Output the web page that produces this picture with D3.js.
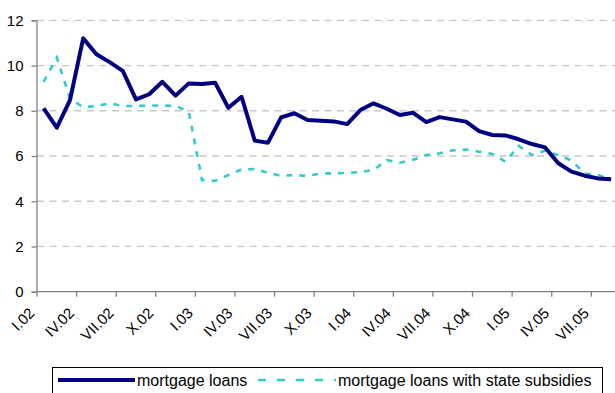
<!DOCTYPE html>
<html>
<head>
<meta charset="utf-8">
<script src="https://cdn.jsdelivr.net/npm/d3@7"></script>
<style>
  body { margin: 0; background: #fff; }
  text { font-family: Arial, "Liberation Sans", sans-serif; fill: #000; }
</style>
</head>
<body>
<div id="chart"></div>
<script>
// monthly rates, I.02 .. VIII.05
const months = ["I", "II", "III", "IV", "V", "VI", "VII", "VIII", "IX", "X", "XI", "XII"];
const years = ["02", "03", "04", "05"];
const mortgageLoans = [8.11, 7.25, 8.47, 11.2, 10.5, 10.15, 9.76, 8.5, 8.73, 9.28, 8.67, 9.21,
    9.18, 9.24, 8.13, 8.62, 6.68, 6.59, 7.71, 7.89, 7.59, 7.56, 7.53, 7.41,
    8.03, 8.33, 8.09, 7.81, 7.91, 7.5, 7.72, 7.62, 7.52, 7.1, 6.93, 6.91,
    6.74, 6.53, 6.38, 5.68, 5.31, 5.13, 5.01, 4.97];
const subsidised = [9.28, 10.35, 8.55, 8.15, 8.21, 8.33, 8.21, 8.21, 8.23, 8.23, 8.21, 7.96,
    4.94, 4.9, 5.16, 5.41, 5.42, 5.26, 5.12, 5.16, 5.12, 5.23, 5.23, 5.25,
    5.29, 5.38, 5.82, 5.7, 5.83, 6.04, 6.12, 6.25, 6.28, 6.19, 6.09, 5.75,
    6.45, 6.04, 6.24, 6.04, 5.8, 5.23, 5.16, 4.97];
const yTicks = [0, 2, 4, 6, 8, 10, 12];
const seriesNames = ["mortgage loans", "mortgage loans with state subsidies"];

function drawChart() {
    const width = 615;
    const height = 393;

    // category labels like "IV.03"
    const categories = mortgageLoans.map((d, i) => months[i % 12] + "." + years[Math.floor(i / 12)]);

    const svg = d3.select("#chart")
        .append("svg")
        .attr("width", width)
        .attr("height", height);

    const x = d3.scaleBand()
        .domain(categories)
        .range([37, 617.7]);

    const y = d3.scaleLinear()
        .domain([0, 12])
        .range([291.7, 20.3]);

    // dashed gridlines
    svg.append("g")
        .selectAll("line")
        .data(yTicks.filter(d => d > 0))
        .join("line")
        .attr("x1", x.range()[0])
        .attr("x2", x.range()[1])
        .attr("y1", d => y(d))
        .attr("y2", d => y(d))
        .attr("stroke", "#c8c8c8")
        .attr("stroke-width", 1.3)
        .attr("stroke-dasharray", "7,5.5");

    // y axis
    const yAxis = svg.append("g")
        .attr("transform", "translate(36.5,0)")
        .call(d3.axisLeft(y).tickValues(yTicks).tickSize(5).tickPadding(8));
    yAxis.select(".domain").attr("stroke", "#808080").attr("stroke-width", 1.3);
    yAxis.selectAll(".tick line").attr("stroke", "#808080").attr("stroke-width", 1.3);
    yAxis.selectAll("text").attr("font-size", "15px").attr("font-family", "Arial, 'Liberation Sans', sans-serif");

    // x axis: ticks every 3 months at category boundaries
    const tickCats = categories.filter((d, i) => i % 3 === 0);
    const xAxis = svg.append("g");
    xAxis.append("line")
        .attr("x1", x.range()[0])
        .attr("x2", x.range()[1])
        .attr("y1", y(0))
        .attr("y2", y(0))
        .attr("stroke", "#808080")
        .attr("stroke-width", 1.3);
    xAxis.selectAll("line.tick")
        .data(tickCats)
        .join("line")
        .attr("class", "tick")
        .attr("x1", d => x(d))
        .attr("x2", d => x(d))
        .attr("y1", y(0))
        .attr("y2", y(0) + 5)
        .attr("stroke", "#808080")
        .attr("stroke-width", 1.3);
    xAxis.selectAll("text")
        .data(tickCats)
        .join("text")
        .attr("transform", d => "translate(" + (x(d) - 1.5) + ",314) rotate(-45)")
        .attr("text-anchor", "end")
        .attr("font-size", "15px")
        .text(d => d);

    const line = d3.line()
        .x((d, i) => x(categories[i]) + x.bandwidth() / 2)
        .y(d => y(d));

    svg.append("path")
        .datum(subsidised)
        .attr("d", line)
        .attr("fill", "none")
        .attr("stroke", "#33cccc")
        .attr("stroke-width", 2.6)
        .attr("stroke-dasharray", "6,7");

    svg.append("path")
        .datum(mortgageLoans)
        .attr("d", line)
        .attr("fill", "none")
        .attr("stroke", "#000080")
        .attr("stroke-width", 4)
        .attr("stroke-linejoin", "round");

    // legend
    const legend = svg.append("g");
    legend.append("rect")
        .attr("x", 52.5)
        .attr("y", 367.5)
        .attr("width", 550)
        .attr("height", 40)
        .attr("fill", "#fff")
        .attr("stroke", "#000")
        .attr("stroke-width", 1);
    legend.append("line")
        .attr("x1", 58).attr("x2", 135)
        .attr("y1", 380).attr("y2", 380)
        .attr("stroke", "#000080")
        .attr("stroke-width", 4);
    legend.append("text")
        .attr("x", 137)
        .attr("y", 385.5)
        .attr("font-size", "16px")
        .text(seriesNames[0]);
    legend.append("line")
        .attr("x1", 258).attr("x2", 336)
        .attr("y1", 380).attr("y2", 380)
        .attr("stroke", "#33cccc")
        .attr("stroke-width", 2.6)
        .attr("stroke-dasharray", "8,11");
    legend.append("text")
        .attr("x", 338)
        .attr("y", 385.5)
        .attr("font-size", "16px")
        .text(seriesNames[1]);
}

drawChart();
</script>
</body>
</html>
